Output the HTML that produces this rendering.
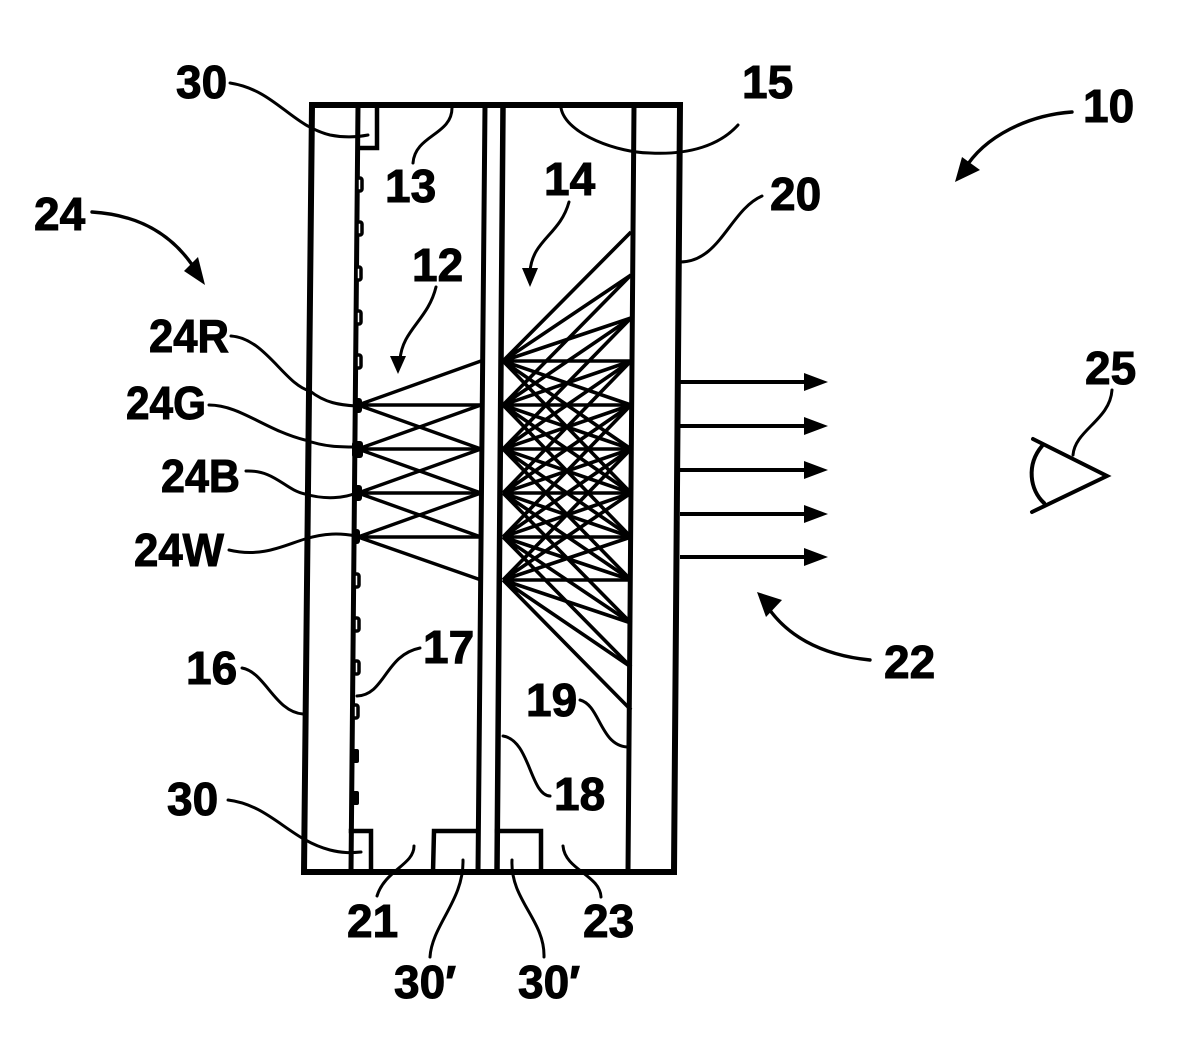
<!DOCTYPE html>
<html><head><meta charset="utf-8"><style>
html,body{margin:0;padding:0;background:#fff}
svg{display:block}
text{font-family:"Liberation Sans",sans-serif;font-weight:bold;font-size:46px;fill:#000;stroke:#000;stroke-width:1px}
</style></head><body>
<svg width="1191" height="1041" viewBox="0 0 1191 1041" xmlns="http://www.w3.org/2000/svg">
<rect width="1191" height="1041" fill="#fff"/>
<!-- structure -->
<g fill="none" stroke="#000" stroke-linecap="square">
<path d="M312,105L680,105L674,872L304,872Z" stroke-width="6"/>
<path d="M358,106L351,872" stroke-width="5"/>
<path d="M485,106L478,872" stroke-width="5"/>
<path d="M503,106L497,872" stroke-width="5.5"/>
<path d="M634,106L628,872" stroke-width="5"/>
<path d="M377,106L377,148L358,148" stroke-width="4.5"/>
<path d="M351,831L371,831L371,872" stroke-width="4.5"/>
<path d="M433,872L434,831L478,831" stroke-width="4.5"/>
<path d="M497,831L541,831L541,872" stroke-width="4.5"/>
</g>
<!-- LEDs -->
<g fill="#fff" stroke="#000" stroke-width="3.5">
<rect x="357" y="178" width="5" height="13" rx="2"/>
<rect x="357" y="222" width="5" height="13" rx="2"/>
<rect x="356" y="267" width="5" height="13" rx="2"/>
<rect x="356" y="311" width="5" height="13" rx="2"/>
<rect x="356" y="355" width="5" height="13" rx="2"/>
<rect x="354" y="574" width="5" height="13" rx="2"/>
<rect x="354" y="618" width="5" height="13" rx="2"/>
<rect x="354" y="661" width="5" height="13" rx="2"/>
<rect x="353" y="705" width="5" height="13" rx="2"/>
</g>
<g fill="#000">
<rect x="353" y="398" width="9" height="15" rx="3"/>
<rect x="352" y="441" width="11" height="17" rx="3"/>
<rect x="352" y="485" width="10" height="16" rx="3"/>
<rect x="352" y="529" width="8" height="15" rx="3"/>
<rect x="351" y="749" width="8" height="14" rx="2"/>
<rect x="351" y="791" width="8" height="14" rx="2"/>
</g>
<!-- left rays -->
<g stroke="#000" stroke-width="3.4" fill="none">
<path d="M358,405L481,361M358,405L481,405M358,405L481,449"/>
<path d="M358,449L481,405M358,449L481,449M358,449L481,493"/>
<path d="M358,493L481,449M358,493L481,493M358,493L481,537"/>
<path d="M358,537L481,493M358,537L481,537M358,537L481,580"/>
</g>
<!-- right rays -->
<g stroke="#000" stroke-width="3.6" fill="none">
<path d="M503,361L631,232M503,361L631,275M503,361L631,318M503,361L631,361M503,361L631,405M503,361L631,449M503,361L631,493"/>
<path d="M503,405L631,275M503,405L631,318M503,405L631,361M503,405L631,405M503,405L631,449M503,405L631,493M503,405L631,537"/>
<path d="M503,449L631,318M503,449L631,361M503,449L631,405M503,449L631,449M503,449L631,493M503,449L631,537M503,449L631,580"/>
<path d="M503,493L631,361M503,493L631,405M503,493L631,449M503,493L631,493M503,493L631,537M503,493L631,580M503,493L631,623"/>
<path d="M503,537L631,405M503,537L631,449M503,537L631,493M503,537L631,537M503,537L631,580M503,537L631,623M503,537L631,667"/>
<path d="M503,580L631,449M503,580L631,493M503,580L631,537M503,580L631,580M503,580L631,623M503,580L631,667M503,580L631,710"/>
</g>
<!-- leaders -->
<g fill="none" stroke="#000" stroke-width="3" stroke-linecap="round">
<path d="M230,83C275,90 290,125 330,135C345,138 358,137 368,135"/>
<path d="M452,108C452,135 415,135 413,163"/>
<path d="M561,108C566,135 620,153 650,153C690,155 720,145 738,125"/>
<path d="M569,202C560,235 532,240 530,272"/>
<path d="M436,287C428,320 402,330 400,360"/>
<path d="M680,262C720,262 730,210 762,196"/>
<path d="M92,212C140,215 175,235 198,274" stroke-width="3.4"/>
<path d="M1072,112C1030,115 985,135 964,170" stroke-width="3.4"/>
<path d="M870,660C820,655 785,635 765,603" stroke-width="3.4"/>
<path d="M231,336C265,338 285,385 310,391C325,403 340,405 356,406"/>
<path d="M209,405C240,405 265,430 305,440C325,447 340,447 356,447"/>
<path d="M246,471C275,470 285,490 305,494C325,500 345,498 356,493"/>
<path d="M229,550C262,558 285,545 305,539C325,533 340,533 356,536"/>
<path d="M242,668C265,672 275,712 303,714"/>
<path d="M420,648C385,655 385,695 357,696"/>
<path d="M503,736C530,740 530,795 550,796"/>
<path d="M580,700C600,705 600,745 627,747"/>
<path d="M228,800C270,805 290,840 330,850C342,853 350,853 361,852"/>
<path d="M414,846C414,865 385,870 377,896"/>
<path d="M463,860C464,900 432,925 430,957"/>
<path d="M512,860C510,900 545,920 544,957"/>
<path d="M563,846C565,870 600,875 601,897"/>
<path d="M1112,390C1110,420 1075,430 1073,455"/>
<path d="M680,382H810M680,426H810M680,470H810M680,514H810M680,557H810" stroke-width="4" stroke-linecap="butt"/>
<path d="M1033,439L1107,476L1032,512" stroke-width="4"/>
<path d="M1042,446C1026,465 1030,490 1044,503" stroke-width="4"/>
</g>
<!-- arrowheads -->
<g fill="#000">
<path d="M530,287L522,268L538,268Z"/>
<path d="M398,374L390,356L406,356Z"/>
<path d="M205,285L184,271L198,257Z"/>
<path d="M955,182L962,157L980,170Z"/>
<path d="M757,592L782,600L766,617Z"/>
<path d="M828,382L804,373L804,391Z"/>
<path d="M828,426L804,417L804,435Z"/>
<path d="M828,470L804,461L804,479Z"/>
<path d="M828,514L804,505L804,523Z"/>
<path d="M828,557L804,548L804,566Z"/>
</g>
<!-- labels -->
<text x="176" y="98">30</text>
<text x="742" y="98">15</text>
<text x="1083" y="122">10</text>
<text x="385" y="202">13</text>
<text x="544" y="195">14</text>
<text x="34" y="230">24</text>
<text x="770" y="210">20</text>
<text x="412" y="281">12</text>
<text x="149" y="352" textLength="80" lengthAdjust="spacingAndGlyphs">24R</text>
<text x="126" y="419" textLength="80" lengthAdjust="spacingAndGlyphs">24G</text>
<text x="161" y="492" textLength="79" lengthAdjust="spacingAndGlyphs">24B</text>
<text x="134" y="566" textLength="90" lengthAdjust="spacingAndGlyphs">24W</text>
<text x="1085" y="384">25</text>
<text x="423" y="663">17</text>
<text x="186" y="684">16</text>
<text x="884" y="678">22</text>
<text x="526" y="716">19</text>
<text x="554" y="810">18</text>
<text x="167" y="815">30</text>
<text x="347" y="937">21</text>
<text x="583" y="937">23</text>
<text x="394" y="998">30′</text>
<text x="518" y="998">30′</text>
</svg>
</body></html>
